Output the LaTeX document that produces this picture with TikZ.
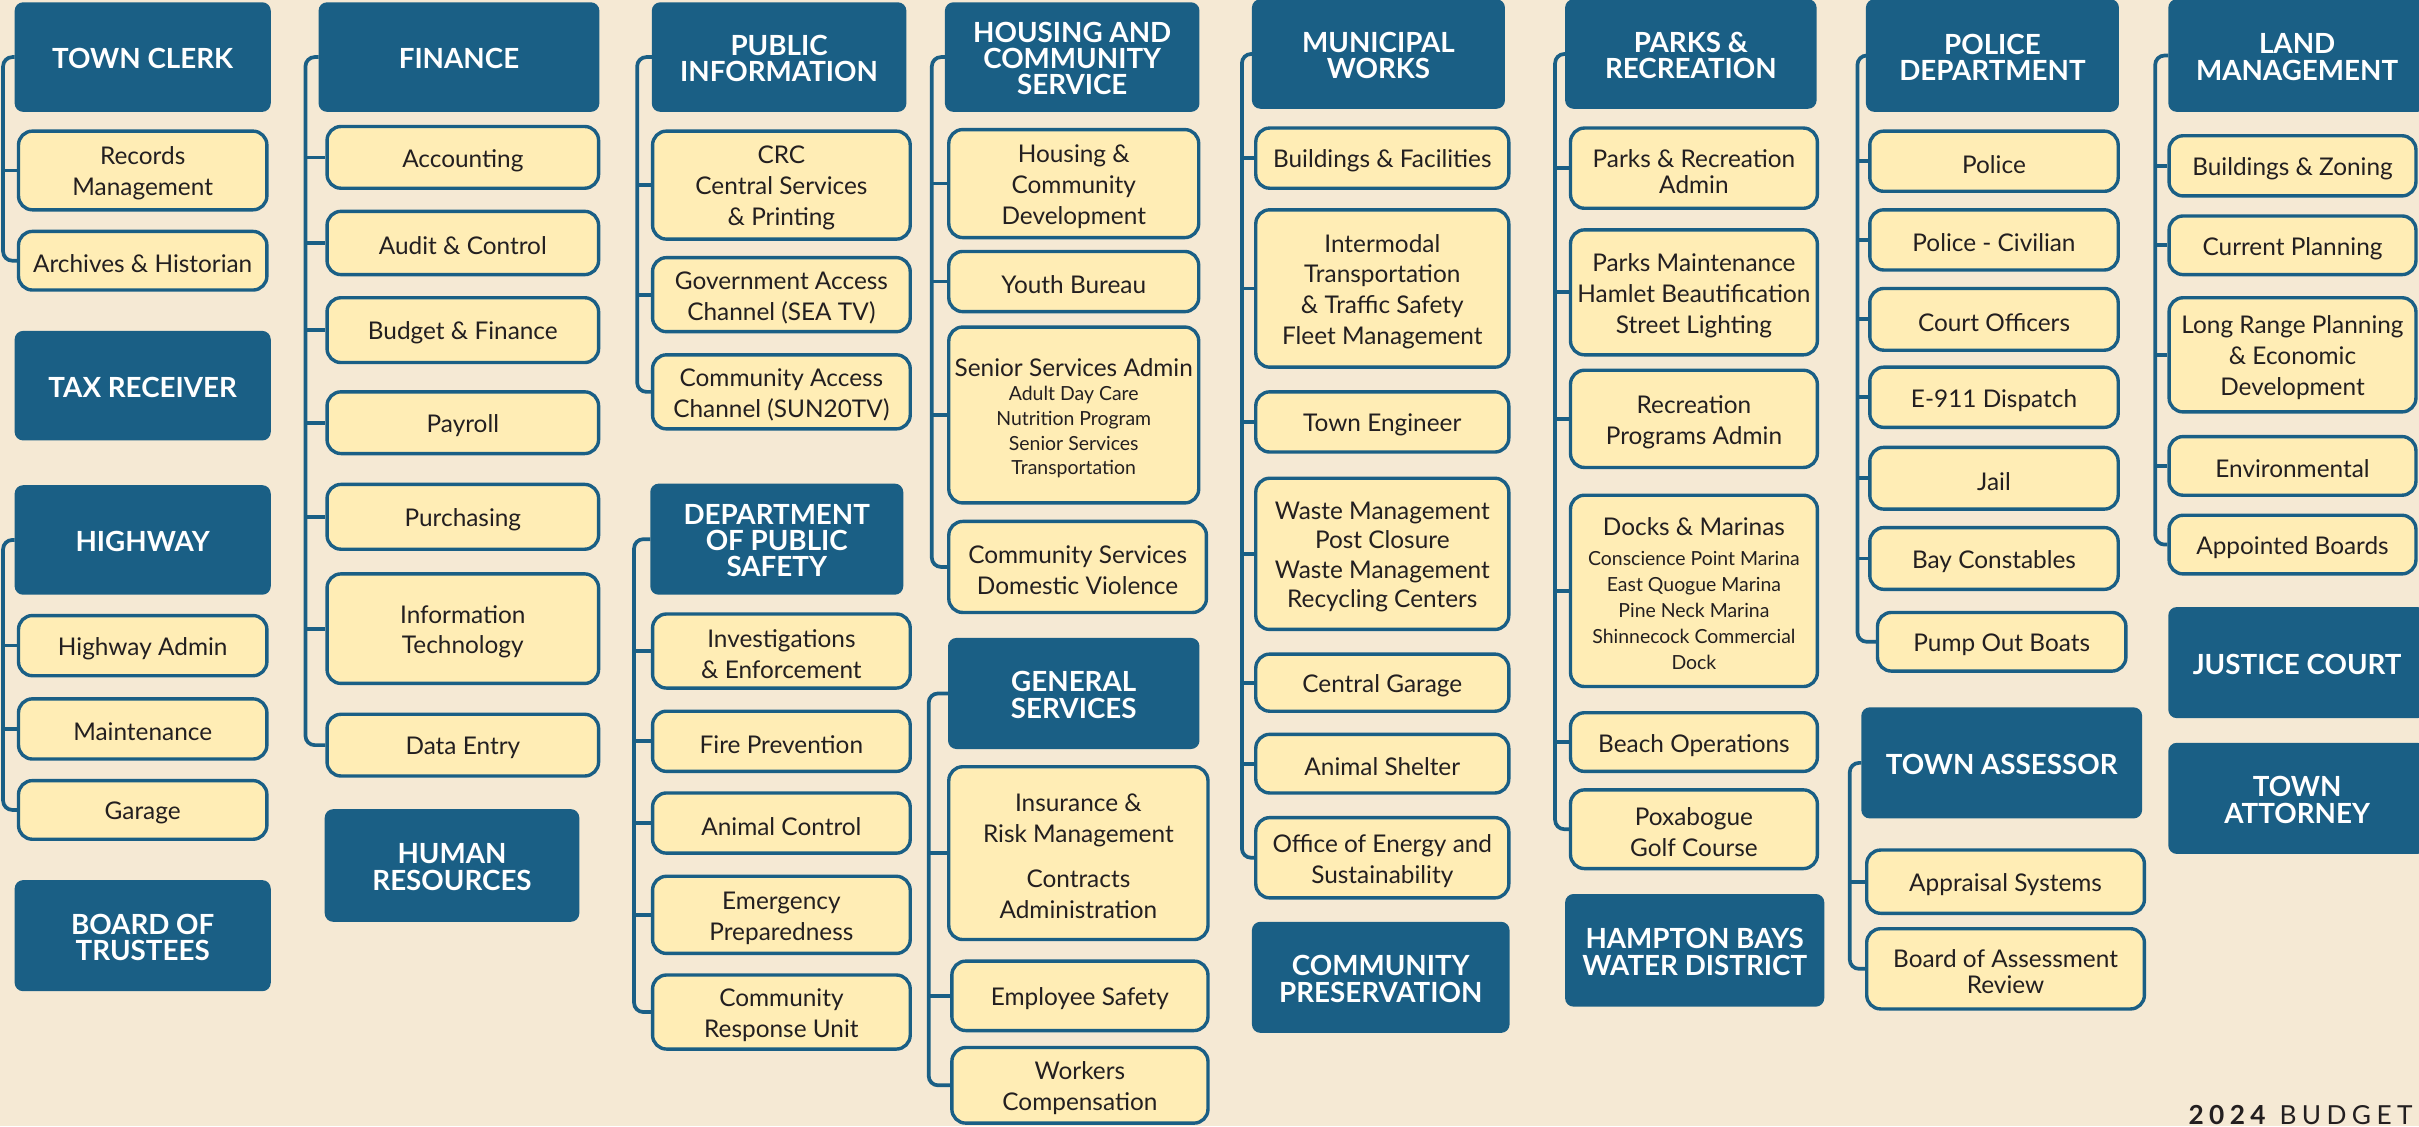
\documentclass[tikz,border=0pt]{standalone}
\usepackage{fontspec}
\setmainfont{Lato}
\definecolor{bgc}{HTML}{F5E9D4}
\definecolor{hblue}{HTML}{1A5F85}
\definecolor{cyel}{HTML}{FFEDB5}
\definecolor{tdark}{HTML}{231F20}
\newcommand\hfont{\fontsize{18}{17}\selectfont\bfseries}
\newcommand\cfont{\fontsize{15.8}{20}\selectfont}
\newcommand\sfnt{\fontsize{12.6}{16}\selectfont}
\newcommand\bx[8][]{%
  \node[#2, minimum width={(#6-#4)*1pt}, minimum height={(#7-#5)*1pt}] (#3) at ({(#4+#6)/2},{(#5+#7)/2}) {};
  \node[#2txt,#1] (#3-t) at (#3.center) {#8};}
\newcommand\grp[4]{%
  \draw[conn,rounded corners=6pt] (#1.west) -- (#1.west -| #2) -- (#3.west -| #2) -- (#3.west);
  \foreach \c in {#4} {\draw[conn] (\c.west -| #2) -- (\c.west);}
}
\tikzset{
  hdr/.style={fill=hblue, draw=hblue, line width=1pt, rounded corners=5pt, inner sep=0pt},
  hdrtxt/.style={text=white, font=\hfont, align=center, inner sep=0pt, yshift=-1pt},
  ch/.style={fill=cyel, draw=hblue, line width=2.2pt, rounded corners=9pt, inner sep=0pt},
  chtxt/.style={text=tdark, font=\cfont, align=center, inner sep=0pt, yshift=-2pt},
  conn/.style={draw=hblue, line width=2.4pt},
}
\begin{document}
\begin{tikzpicture}[x=1pt,y=-1pt]
\fill[bgc] (0,0) rectangle (1568,730);
\useasboundingbox (0,0) rectangle (1568,730);
% column 1
\bx{hdr}{tc}{10}{2}{175}{72}{TOWN CLERK}
\bx{ch}{rec}{12}{85}{173}{136}{Records\\Management}
\bx{ch}{arch}{12}{150}{173}{188}{Archives \& Historian}
\bx{hdr}{tax}{10}{215}{175}{285}{TAX RECEIVER}
\bx{hdr}{hw}{10}{315}{175}{385}{HIGHWAY}
\bx{ch}{hwa}{12}{399}{173}{438}{Highway Admin}
\bx{ch}{mnt}{12}{453}{173}{492}{Maintenance}
\bx{ch}{gar}{12}{506}{173}{544}{Garage}
\bx{hdr}{bot}{10}{571}{175}{642}{BOARD OF\\TRUSTEES}
\coordinate (v1) at (2,0);
\grp{tc}{v1}{arch}{rec}
\grp{hw}{v1}{gar}{hwa,mnt}
% column 2
\bx{hdr}{fin}{207}{2}{388}{72}{FINANCE}
\bx{ch}{acc}{212}{82}{388}{122}{Accounting}
\bx{ch}{aud}{212}{137}{388}{178}{Audit \& Control}
\bx{ch}{bud}{212}{193}{388}{235}{Budget \& Finance}
\bx{ch}{pay}{212}{254}{388}{294}{Payroll}
\bx{ch}{pur}{212}{314}{388}{356}{Purchasing}
\bx{ch}{it}{212}{372}{388}{443}{Information\\Technology}
\bx{ch}{de}{212}{463}{388}{503}{Data Entry}
\bx{hdr}{hr}{211}{525}{375}{597}{HUMAN\\RESOURCES}
\coordinate (v2) at (198,0);
\grp{fin}{v2}{de}{acc,aud,bud,pay,pur,it}
% column 3
\bx{hdr}{pi}{423}{2}{587}{72}{PUBLIC\\INFORMATION}
\bx{ch}{crc}{423}{85}{590}{155}{CRC\\Central Services\\\& Printing}
\bx{ch}{gov}{423}{167}{590}{215}{Government Access\\Channel (SEA TV)}
\bx{ch}{cac}{423}{230}{590}{278}{Community Access\\Channel (SUN20TV)}
\coordinate (v3) at (413,0);
\grp{pi}{v3}{cac}{crc,gov}
\bx{hdr}{dps}{422}{314}{585}{385}{DEPARTMENT\\OF PUBLIC\\SAFETY}
\bx{ch}{inv}{423}{398}{590}{446}{Investigations\\\& Enforcement}
\bx{ch}{fire}{423}{461}{590}{500}{Fire Prevention}
\bx{ch}{anc}{423}{514}{590}{553}{Animal Control}
\bx{ch}{emp}{423}{568}{590}{618}{Emergency\\Preparedness}
\bx{ch}{cru}{423}{632}{590}{680}{Community\\Response Unit}
\coordinate (v3b) at (411,0);
\grp{dps}{v3b}{cru}{inv,fire,anc,emp}
% column 4
\bx{hdr}{hcs}{613}{2}{777}{72}{HOUSING AND\\COMMUNITY\\SERVICE}
\bx{ch}{hcd}{615}{84}{777}{154}{Housing \&\\Community\\Development}
\bx{ch}{yb}{615}{163}{777}{202}{Youth Bureau}
\bx[font=\sfnt]{ch}{ssa}{615}{212}{777}{326}{{\fontsize{15.8}{16}\selectfont Senior Services Admin}\\Adult Day Care\\Nutrition Program\\Senior Services\\Transportation}
\bx{ch}{csdv}{615}{338}{782}{397}{Community Services\\Domestic Violence}
\coordinate (v4) at (604,0);
\grp{hcs}{v4}{csdv}{hcd,yb,ssa}
\bx{hdr}{gs}{615}{414}{777}{485}{GENERAL\\SERVICES}
\bx{ch}{ins}{615}{497}{783}{609}{Insurance \&\\Risk Management\\[9pt]Contracts\\Administration}
\bx{ch}{es}{617}{623}{783}{668}{Employee Safety}
\bx{ch}{wc}{617}{679}{783}{728}{Workers\\Compensation}
\coordinate (v4b) at (602,0);
\grp{gs}{v4b}{wc}{ins,es}
% column 5
\bx{hdr}{mw}{812}{0}{975}{70}{MUNICIPAL\\WORKS}
\bx{ch}{bf}{814}{83}{978}{122}{Buildings \& Facilities}
\bx{ch}{itm}{814}{136}{978}{238}{Intermodal\\Transportation\\\& Traffic Safety\\Fleet Management}
\bx{ch}{te}{814}{254}{978}{293}{Town Engineer}
\bx{ch}{wm}{814}{310}{978}{408}{Waste Management\\[-1pt]Post Closure\\[-1pt]Waste Management\\[-1pt]Recycling Centers}
\bx{ch}{cg}{814}{424}{978}{461}{Central Garage}
\bx{ch}{ash}{814}{476}{978}{514}{Animal Shelter}
\bx{ch}{oes}{814}{530}{978}{582}{Office of Energy and\\Sustainability}
\coordinate (v5) at (805,0);
\grp{mw}{v5}{oes}{bf,itm,te,wm,cg,ash}
\bx{hdr}{cp}{812}{598}{978}{669}{COMMUNITY\\PRESERVATION}
% column 6
\bx{hdr}{pr}{1015}{0}{1177}{70}{PARKS \&\\RECREATION}
\bx{ch}{pra}{1018}{83}{1178}{135}{Parks \& Recreation\\[-3pt]Admin}
\bx{ch}{pm}{1018}{149}{1178}{230}{Parks Maintenance\\Hamlet Beautification\\Street Lighting}
\bx{ch}{rpa}{1018}{240}{1178}{303}{Recreation\\Programs Admin}
\bx[font=\fontsize{12.6}{17}\selectfont]{ch}{dm}{1018}{321}{1178}{445}{{\fontsize{15.8}{17}\selectfont Docks \& Marinas}\\[2pt]Conscience Point Marina\\East Quogue Marina\\Pine Neck Marina\\Shinnecock Commercial\\Dock}
\bx{ch}{bo}{1018}{462}{1178}{500}{Beach Operations}
\bx{ch}{pgc}{1018}{512}{1178}{563}{Poxabogue\\Golf Course}
\coordinate (v6) at (1008,0);
\grp{pr}{v6}{pgc}{pra,pm,rpa,dm,bo}
\bx{hdr}{hbwd}{1015}{580}{1182}{652}{HAMPTON BAYS\\WATER DISTRICT}
% column 7
\bx{hdr}{pd}{1210}{0}{1373}{72}{POLICE\\DEPARTMENT}
\bx{ch}{pol}{1212}{85}{1373}{124}{Police}
\bx{ch}{pciv}{1212}{136}{1373}{175}{Police - Civilian}
\bx{ch}{co}{1212}{187}{1373}{227}{Court Officers}
\bx{ch}{e911}{1212}{238}{1373}{277}{E-911 Dispatch}
\bx{ch}{jail}{1212}{290}{1373}{330}{Jail}
\bx{ch}{bc}{1212}{342}{1373}{382}{Bay Constables}
\bx{ch}{pob}{1217}{397}{1378}{435}{Pump Out Boats}
\coordinate (v7) at (1204,0);
\grp{pd}{v7}{pob}{pol,pciv,co,e911,jail,bc}
\bx{hdr}{tas}{1207}{459}{1388}{530}{TOWN ASSESSOR}
\bx{ch}{aps}{1210}{551}{1390}{592}{Appraisal Systems}
\bx{ch}{bar}{1210}{602}{1390}{654}{Board of Assessment\\[-3pt]Review}
\coordinate (v7b) at (1199,0);
\grp{tas}{v7b}{bar}{aps}
% column 8
\bx{hdr}{lm}{1406}{0}{1572}{72}{LAND\\MANAGEMENT}
\bx{ch}{bz}{1406}{88}{1566}{127}{Buildings \& Zoning}
\bx{ch}{cpl}{1406}{140}{1566}{178}{Current Planning}
\bx{ch}{lrp}{1406}{193}{1566}{267}{Long Range Planning\\\& Economic\\Development}
\bx{ch}{env}{1406}{283}{1566}{321}{Environmental}
\bx{ch}{ab}{1406}{334}{1566}{372}{Appointed Boards}
\coordinate (v8) at (1397,0);
\grp{lm}{v8}{ab}{bz,cpl,lrp,env}
\bx{hdr}{jc}{1406}{394}{1572}{465}{JUSTICE COURT}
\bx{hdr}{tat}{1406}{482}{1572}{553}{TOWN\\ATTORNEY}
% footer
\node[anchor=base east, inner sep=0pt, text=tdark, font=\fontsize{17}{17}\selectfont] (bud24) at (1564,729)
  {{\bfseries 2\kern3.5pt0\kern3.5pt2\kern3.5pt4}\kern9pt B\kern3.5pt U\kern3.5pt D\kern3.5pt G\kern3.5pt E\kern3.5pt T};
\end{tikzpicture}
\end{document}
